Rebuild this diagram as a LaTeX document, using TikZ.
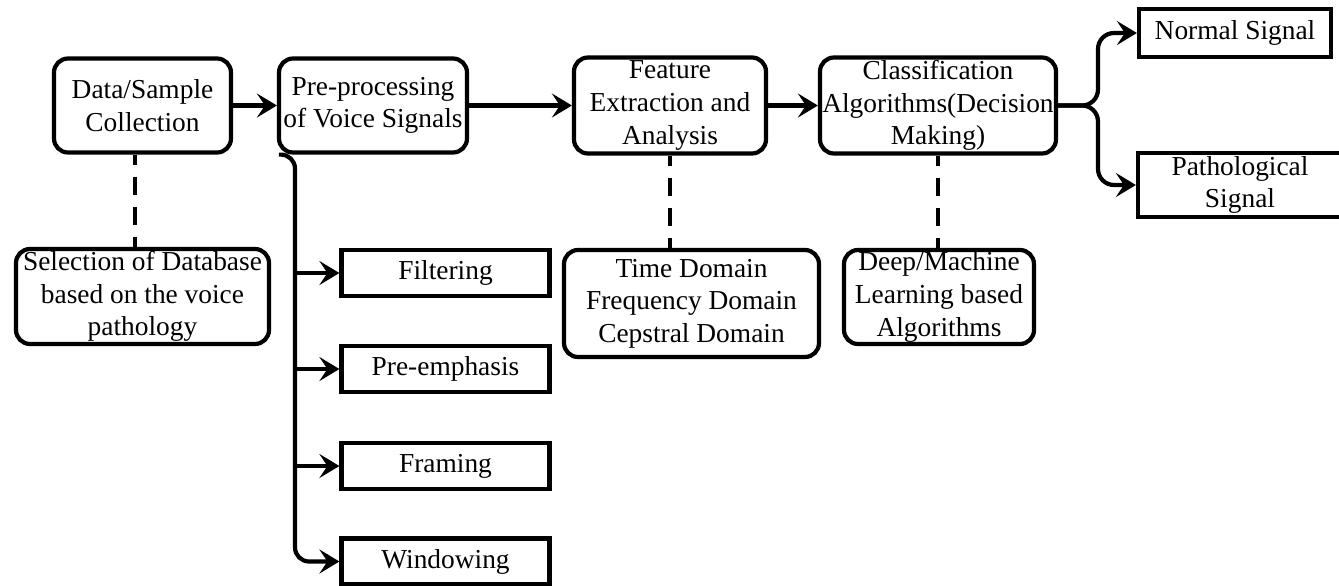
\documentclass[tikz,border=0pt]{standalone}
\usepackage{fontspec}
\setmainfont{Liberation Serif}
\usetikzlibrary{arrows.meta,calc}
\begin{document}
\begin{tikzpicture}[x=0.5pt,y=-0.5pt,
  every node/.style={font=\fontsize{13.7}{16.3}\selectfont, align=center, inner sep=0pt},
  rbox/.style={draw, line width=2.1pt, rounded corners=7pt},
  sbox/.style={draw, line width=2.1pt},
  arr/.style={line width=2.1pt, -{Stealth[length=10pt,width=12pt,inset=4pt]}},
  dsh/.style={line width=2.1pt, dash pattern=on 9pt off 6pt, dash phase=4pt}]
\useasboundingbox (0,0) rectangle (1339,585);
% top row
\node[rbox, minimum width=88.5pt, minimum height=47pt] (data) at (142.5,105.5) {Data/Sample\\Collection};
\node[rbox, minimum width=94pt, minimum height=47pt] (pre) at (373,105.5) {Pre-processing\\of Voice Signals};
\node[rbox, minimum width=96pt, minimum height=48pt] (feat) at (670,105.5) {Feature\\Extraction and\\Analysis};
\node[rbox, minimum width=118pt, minimum height=48pt] (cls) at (938,105.5) {Classification\\Algorithms(Decision\\Making)};
% outputs
\node[sbox, minimum width=96pt, minimum height=24pt] (norm) at (1235,33) {Normal Signal};
\node[sbox, minimum width=102pt, minimum height=32pt] (path) at (1240,185) {Pathological\\Signal};
% lower boxes
\node[rbox, minimum width=126.5pt, minimum height=47.5pt] (sel) at (142.5,296.5) {Selection of Database\\based on the voice\\pathology};
\node[rbox, minimum width=127.5pt, minimum height=53.5pt] (td) at (691.5,303.5) {Time Domain\\Frequency Domain\\Cepstral Domain};
\node[rbox, minimum width=95pt, minimum height=47pt] (deep) at (939,297) {Deep/Machine\\Learning based\\Algorithms};
% pre-processing steps
\node[sbox, minimum width=104pt, minimum height=23pt] (filt) at (445.5,273) {Filtering};
\node[sbox, minimum width=104pt, minimum height=23pt] (pree) at (445.5,369) {Pre-emphasis};
\node[sbox, minimum width=104pt, minimum height=23pt] (fram) at (445.5,466) {Framing};
\node[sbox, minimum width=104pt, minimum height=23pt] (wind) at (445.5,561.5) {Windowing};
% coordinates
\coordinate (sp) at (295,0);
\coordinate (split) at (1098,105.5);
% main arrows
\draw[arr] (data.east) -- (pre.west);
\draw[arr] (pre.east) -- (feat.west);
\draw[arr] (feat.east) -- (cls.west);
% output branches
\draw[arr, rounded corners=8pt] (cls.east) -- (split) |- (norm.west);
\draw[arr, rounded corners=8pt] (cls.east) -- (split) |- (path.west);
% dashed links
\draw[dsh] ([xshift=-3.75pt]data.south) -- ([xshift=-3.75pt]data.south |- sel.north);
\draw[dsh] (feat.south) -- (feat.south |- td.north);
\draw[dsh] (cls.south) -- (cls.south |- deep.north);
% pre-processing spine
\draw[arr, rounded corners=7pt] ([xshift=1pt]pre.south west) -- (pre.south west -| sp) -- (wind.west -| sp) -- (wind.west);
\draw[arr] (filt.west -| sp) -- (filt.west);
\draw[arr] (pree.west -| sp) -- (pree.west);
\draw[arr] (fram.west -| sp) -- (fram.west);
\end{tikzpicture}
\end{document}
